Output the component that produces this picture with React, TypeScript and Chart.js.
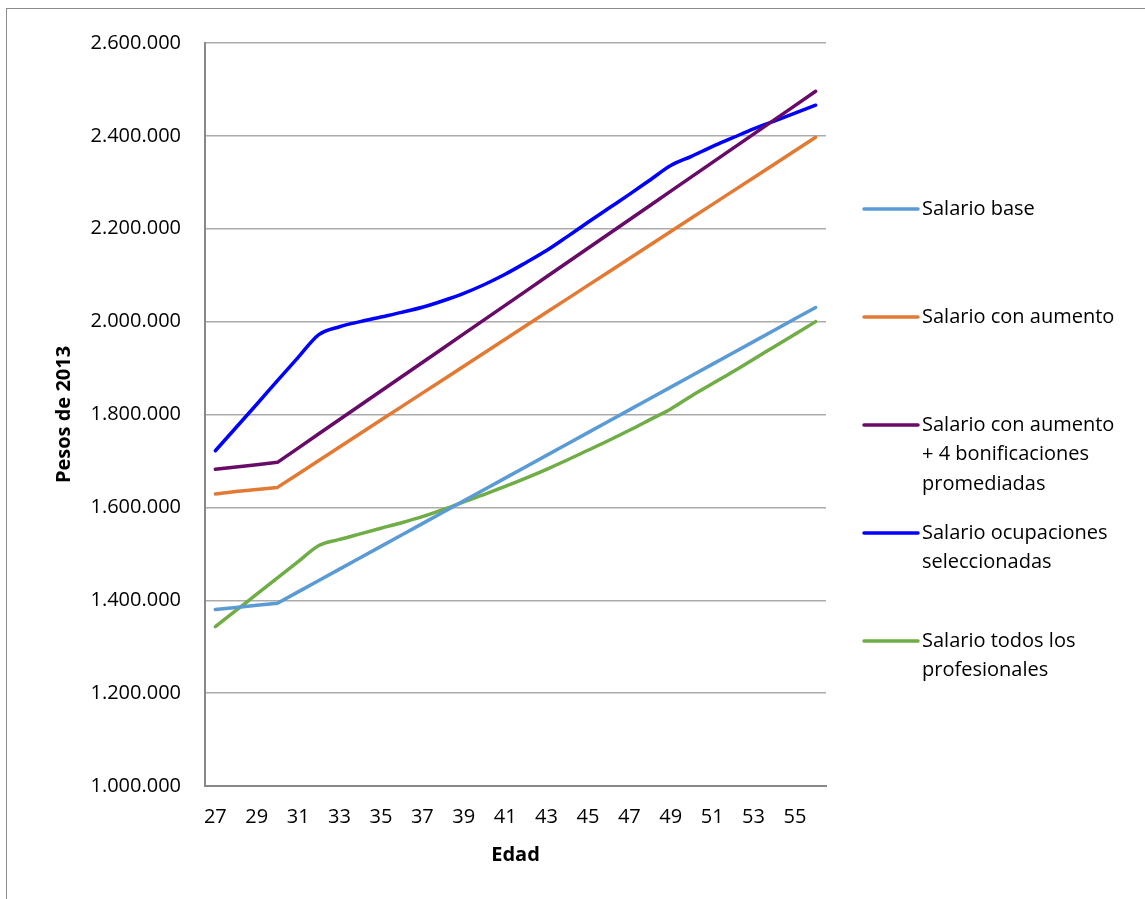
import React, { useEffect, useRef } from "react";
import { Chart, registerables } from "chart.js";

Chart.register(...registerables);

const AGES = [27, 28, 29, 30, 31, 32, 33, 34, 35, 36, 37, 38, 39, 40, 41, 42, 43, 44, 45, 46, 47, 48, 49, 50, 51, 52, 53, 54, 55, 56];

const SALARIO_BASE = [
  1380000, 1384500, 1389000, 1393500, 1418000, 1442500, 1467000, 1491500, 1516000, 1540500,
  1565000, 1589500, 1614000, 1638500, 1663000, 1687500, 1712000, 1736500, 1761000, 1785500,
  1810000, 1834500, 1859000, 1883500, 1908000, 1932500, 1957000, 1981500, 2006000, 2030500,
];

const SALARIO_AUMENTO = [
  1629000, 1634000, 1638500, 1643000, 1672000, 1701000, 1730000, 1759000, 1788000, 1817000,
  1846000, 1875000, 1904000, 1933000, 1962000, 1991000, 2020000, 2049000, 2078000, 2107000,
  2136000, 2165000, 2194000, 2223000, 2252000, 2281000, 2310000, 2339000, 2368000, 2397000,
];

const SALARIO_AUMENTO_BONIF = [
  1682000, 1687000, 1692000, 1697000, 1727700, 1758500, 1789200, 1819900, 1850700, 1881400,
  1912100, 1942800, 1973600, 2004300, 2035000, 2065800, 2096500, 2127200, 2157900, 2188700,
  2219400, 2250100, 2280900, 2311600, 2342300, 2373000, 2403800, 2434500, 2465200, 2496000,
];

const SALARIO_OCUPACIONES = [
  1722000, 1772000, 1822000, 1873000, 1923000, 1972000, 1989000, 2000000, 2010000, 2020000,
  2031000, 2045000, 2061000, 2080000, 2102000, 2127000, 2153000, 2183000, 2214000, 2244000,
  2274000, 2305000, 2336000, 2356000, 2377000, 2396000, 2415000, 2432000, 2449000, 2466000,
];

const SALARIO_PROFESIONALES = [
  1343000, 1378000, 1413000, 1448000, 1483000, 1518000, 1531000, 1543000, 1555000, 1567000,
  1580000, 1595000, 1612000, 1628000, 1645000, 1663000, 1682000, 1702000, 1723000, 1744000,
  1766000, 1789000, 1812000, 1840000, 1866000, 1892000, 1919000, 1946000, 1973000, 2000000,
];

const SERIES_NAMES = [
  "Salario base",
  "Salario con aumento",
  "Salario con aumento + 4 bonificaciones promediadas",
  "Salario ocupaciones seleccionadas",
  "Salario todos los profesionales",
];

const LEGEND_LINES = [
  ["Salario base"],
  ["Salario con aumento"],
  ["Salario con aumento", "+ 4 bonificaciones", "promediadas"],
  ["Salario ocupaciones", "seleccionadas"],
  ["Salario todos los", "profesionales"],
];

const SERIES_COLORS = ["#5B9BD5", "#E27A33", "#680A68", "#0000FF", "#70AD47"];
const SMOOTH = [false, false, false, true, true];

const Y_MIN = 1000000;
const Y_MAX = 2600000;
const Y_STEP = 200000;

const X_TITLE = "Edad";
const Y_TITLE = "Pesos de 2013";

const FONT = "'Open Sans', 'Noto Sans', sans-serif";

function fmt(v: number): string {
  return Math.round(v)
    .toString()
    .replace(/\B(?=(\d{3})+(?!\d))/g, ".");
}

const sideLegend = {
  id: "sideLegend",
  afterDraw(chart: any) {
    const { ctx, chartArea } = chart;
    const x0 = chartArea.right + 38;
    const lineLen = 54;
    const textX = x0 + lineLen + 4;
    const startY = chartArea.top + 166;
    const step = 108;
    const lh = 29.5;
    ctx.save();
    ctx.font = `20px ${FONT}`;
    ctx.textBaseline = "middle";
    ctx.textAlign = "left";
    chart.data.datasets.forEach((ds: any, i: number) => {
      const y = startY + i * step;
      ctx.strokeStyle = ds.borderColor;
      ctx.lineWidth = 3.5;
      ctx.lineCap = "round";
      ctx.beginPath();
      ctx.moveTo(x0, y);
      ctx.lineTo(x0 + lineLen, y);
      ctx.stroke();
      ctx.fillStyle = "#000";
      LEGEND_LINES[i].forEach((t, j) => ctx.fillText(t, textX, y + j * lh));
    });
    ctx.restore();
  },
};

export default function App() {
  const ref = useRef<HTMLCanvasElement | null>(null);

  useEffect(() => {
    if (!ref.current) return;
    const seriesData = [
      SALARIO_BASE,
      SALARIO_AUMENTO,
      SALARIO_AUMENTO_BONIF,
      SALARIO_OCUPACIONES,
      SALARIO_PROFESIONALES,
    ];
    const chart = new Chart(ref.current, {
      type: "line",
      data: {
        labels: AGES.map(String),
        datasets: seriesData.map((d, i) => ({
          label: SERIES_NAMES[i],
          data: d,
          borderColor: SERIES_COLORS[i],
          backgroundColor: SERIES_COLORS[i],
          borderWidth: 3.5,
          borderCapStyle: "round",
          borderJoinStyle: "round",
          pointRadius: 0,
          pointHoverRadius: 0,
          fill: false,
          cubicInterpolationMode: SMOOTH[i] ? "monotone" : "default",
          tension: 0,
        })),
      },
      options: {
        responsive: false,
        animation: false,
        events: [],
        layout: { padding: { left: 0, top: 43, right: 319, bottom: 0 } },
        plugins: {
          legend: { display: false },
          tooltip: { enabled: false },
          title: { display: false },
        },
        scales: {
          x: {
            type: "category",
            offset: true,
            grid: { display: false, drawTicks: false },
            border: { display: true, color: "#888888", width: 2 },
            ticks: {
              autoSkip: false,
              maxRotation: 0,
              padding: 19,
              color: "#000",
              font: { family: FONT, size: 20 },
              callback: (_v: any, i: number) => (i % 2 === 0 ? String(AGES[i]) : ""),
            },
            title: {
              display: true,
              text: X_TITLE,
              color: "#000",
              font: { family: FONT, size: 20, weight: "bold" },
              padding: { top: 0, bottom: 32 },
            },
            afterFit: (s: any) => {
              s.height = 113;
            },
          },
          y: {
            min: Y_MIN,
            max: Y_MAX,
            ticks: {
              stepSize: Y_STEP,
              padding: 24,
              color: "#000",
              font: { family: FONT, size: 20 },
              callback: (v: any) => fmt(Number(v)),
            },
            grid: { color: "#ababab", lineWidth: 1.5, drawTicks: false },
            border: { display: true, color: "#888888", width: 2 },
            title: {
              display: true,
              text: Y_TITLE,
              color: "#000",
              font: { family: FONT, size: 20, weight: "bold" },
              padding: { top: 52, bottom: 0 },
            },
            afterFit: (s: any) => {
              s.width = 205;
            },
          },
        },
      },
      plugins: [sideLegend],
    } as any);
    return () => chart.destroy();
  }, []);

  return (
    <div>
      <div
        style={{
          position: "fixed",
          left: 6,
          top: 8,
          width: 1139,
          height: 891,
          borderLeft: "1px solid #8c8c8c",
          borderTop: "1px solid #8c8c8c",
          boxSizing: "border-box",
          background: "#fff",
        }}
      />
      <canvas
        ref={ref}
        width={1145}
        height={899}
        style={{ position: "fixed", left: 0, top: 0, width: 1145, height: 899 }}
      />
    </div>
  );
}
